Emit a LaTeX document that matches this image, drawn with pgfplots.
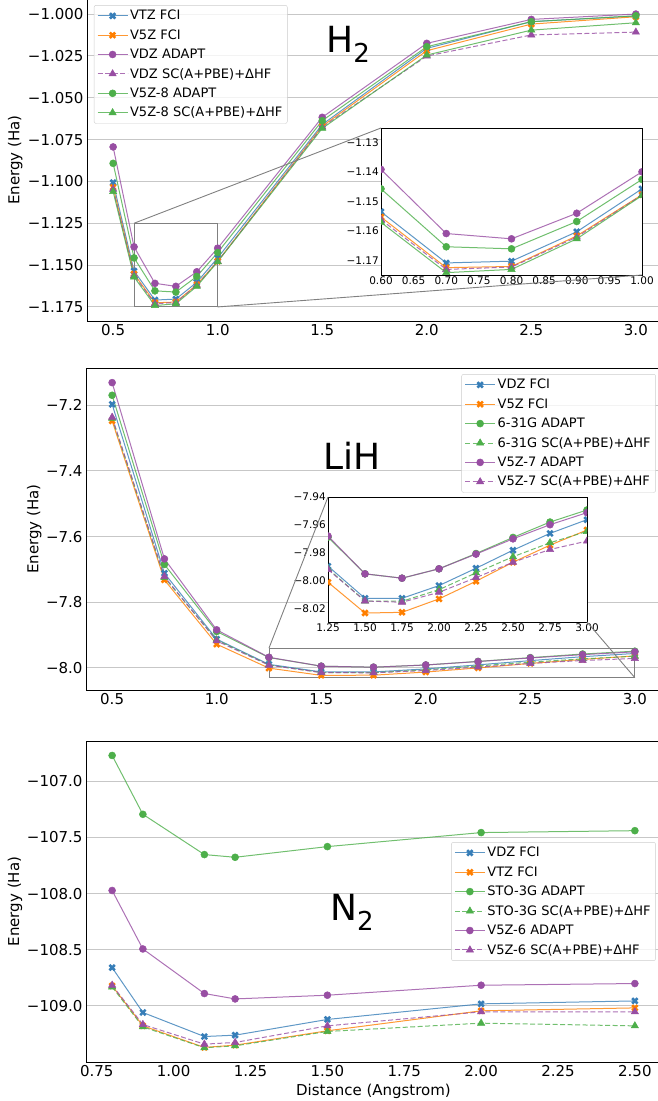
\documentclass[border=0pt]{standalone}
\usepackage{fontspec}
\setmainfont{DejaVu Sans}
\usepackage{pgfplots}
\pgfplotsset{compat=1.18}

\definecolor{cB}{HTML}{377EB8}
\definecolor{cO}{HTML}{FF7F00}
\definecolor{cG}{HTML}{4DAF4A}
\definecolor{cP}{HTML}{984EA3}

\pgfplotsset{
  mX/.style={mark=x, mark size=3.8pt, mark options={solid, line width=2.6pt, draw opacity=1}},
  mO/.style={mark=*, mark size=3.5pt, mark options={solid, line width=0.5pt, draw opacity=1, fill opacity=1}},
  mT/.style={mark=triangle*, mark size=4.2pt, mark options={solid, line width=0.5pt, draw opacity=1, fill opacity=1}},
  ln/.style={line width=1pt, draw opacity=0.8},
  dsh/.style={dash pattern=on 5pt off 2.5pt},
  legend image code/.code={\draw[mark repeat=2,mark phase=2,#1] plot coordinates {(0pt,0pt) (15pt,0pt) (30pt,0pt)};},
  mainax/.style={
    scale only axis, width=575pt,
    axis line style={line width=0.9pt},
    ymajorgrids, major grid style={color=black!22, line width=0.9pt},
    major tick length=0pt,
    tick label style={font=\fontsize{15}{18}\selectfont},
    label style={font=\fontsize{15}{18}\selectfont},
    ylabel={Energy (Ha)},
    legend cell align=left,
    legend style={font=\fontsize{13}{15}\selectfont, draw=black!20, fill=white,
      fill opacity=0.8, text opacity=1, draw opacity=1, rounded corners=2pt,
      row sep=4.2pt, inner ysep=3pt},
  },
  insax/.style={
    scale only axis, axis background/.style={fill=white},
    axis line style={line width=0.9pt},
    major tick length=0pt,
    tick label style={font=\fontsize{10.5}{12}\selectfont, inner sep=2pt},
    clip marker paths=true,
  },
}

\begin{document}
\begin{tikzpicture}[x=1pt,y=1pt]
\useasboundingbox (0,0) rectangle (658,1101);

% ---------------- H2 ----------------
\begin{axis}[mainax, at={(87pt,780pt)}, anchor=south west, height=322pt,
  xmin=0.375, xmax=3.125, ymin=-1.1834, ymax=-0.991,
  xtick={0.5,1,1.5,2,2.5,3}, xticklabels={0.5,1.0,1.5,2.0,2.5,3.0},
  ytick={-1.175,-1.15,-1.125,-1.1,-1.075,-1.05,-1.025,-1.0},
  yticklabels={−1.175,−1.150,−1.125,−1.100,−1.075,−1.050,−1.025,−1.000},
  y label style={at={(axis description cs:-0.125,0.5)}, anchor=center},
  legend style={at={(0.012,0.981)}, anchor=north west}]
\addplot[cB, ln, mX] coordinates {(0.5,-1.1007) (0.6,-1.1535) (0.7,-1.1709) (0.8,-1.1703) (0.9,-1.1603) (1.0,-1.1457) (1.5,-1.0660) (2.0,-1.0205) (2.5,-1.0045) (3.0,-1.0012)};
\addlegendentry{VTZ FCI}
\addplot[cO, ln, mX] coordinates {(0.5,-1.1035) (0.6,-1.1553) (0.7,-1.1725) (0.8,-1.1721) (0.9,-1.1617) (1.0,-1.1477) (1.5,-1.0670) (2.0,-1.0219) (2.5,-1.0060) (3.0,-1.0016)};
\addlegendentry{V5Z FCI}
\addplot[cP, ln, mO] coordinates {(0.5,-1.0794) (0.6,-1.1391) (0.7,-1.1609) (0.8,-1.1627) (0.9,-1.1540) (1.0,-1.1399) (1.5,-1.0617) (2.0,-1.0175) (2.5,-1.0032) (3.0,-1.0000)};
\addlegendentry{VDZ ADAPT}
\addplot[cP, ln, dsh, mT] coordinates {(0.5,-1.1047) (0.6,-1.1562) (0.7,-1.1731) (0.8,-1.1723) (0.9,-1.1621) (1.0,-1.1478) (1.5,-1.0675) (2.0,-1.0251) (2.5,-1.0125) (3.0,-1.0108)};
\addlegendentry{VDZ SC(A+PBE)+ΔHF}
\addplot[cG, ln, mO] coordinates {(0.5,-1.0892) (0.6,-1.1457) (0.7,-1.1654) (0.8,-1.1661) (0.9,-1.1568) (1.0,-1.1425) (1.5,-1.0637) (2.0,-1.0195) (2.5,-1.0046) (3.0,-1.0010)};
\addlegendentry{V5Z-8 ADAPT}
\addplot[cG, ln, mT] coordinates {(0.5,-1.1061) (0.6,-1.1571) (0.7,-1.1742) (0.8,-1.1731) (0.9,-1.1627) (1.0,-1.1480) (1.5,-1.0683) (2.0,-1.0245) (2.5,-1.0096) (3.0,-1.0052)};
\addlegendentry{V5Z-8 SC(A+PBE)+ΔHF}
\draw[black!50, line width=0.9pt] (axis cs:0.6,-1.175) rectangle (axis cs:1.0,-1.125);
\coordinate (r1tl) at (axis cs:0.6,-1.125);
\coordinate (r1br) at (axis cs:1.0,-1.175);
\end{axis}

\begin{axis}[insax, at={(381pt,826pt)}, anchor=south west, width=261pt, height=147pt,
  xmin=0.6, xmax=1.0, ymin=-1.175, ymax=-1.125,
  xtick={0.6,0.65,0.7,0.75,0.8,0.85,0.9,0.95,1.0},
  xticklabels={0.60,0.65,0.70,0.75,0.80,0.85,0.90,0.95,1.00},
  ytick={-1.17,-1.16,-1.15,-1.14,-1.13},
  yticklabels={−1.17,−1.16,−1.15,−1.14,−1.13}]
\addplot[cB, ln, mX] coordinates {(0.6,-1.1535) (0.7,-1.1709) (0.8,-1.1703) (0.9,-1.1603) (1.0,-1.1457)};
\addplot[cO, ln, mX] coordinates {(0.6,-1.1553) (0.7,-1.1725) (0.8,-1.1721) (0.9,-1.1617) (1.0,-1.1477)};
\addplot[cP, ln, mO] coordinates {(0.6,-1.1391) (0.7,-1.1609) (0.8,-1.1627) (0.9,-1.1540) (1.0,-1.1399)};
\addplot[cP, ln, dsh, mT] coordinates {(0.6,-1.1562) (0.7,-1.1731) (0.8,-1.1723) (0.9,-1.1621) (1.0,-1.1478)};
\addplot[cG, ln, mO] coordinates {(0.6,-1.1457) (0.7,-1.1654) (0.8,-1.1661) (0.9,-1.1568) (1.0,-1.1425)};
\addplot[cG, ln, mT] coordinates {(0.6,-1.1571) (0.7,-1.1742) (0.8,-1.1731) (0.9,-1.1627) (1.0,-1.1480)};
\coordinate (i1tl) at (rel axis cs:0,1);
\coordinate (i1br) at (rel axis cs:1,0);
\end{axis}
\draw[black!50, line width=0.9pt] (r1tl) -- (i1tl) (r1br) -- (i1br);
\node[anchor=base west, font=\fontsize{36}{40}\selectfont, inner sep=0pt] at (326,1048) {H\raisebox{-10pt}{\fontsize{26}{28}\selectfont 2}};

% ---------------- LiH ----------------
\begin{axis}[mainax, at={(86pt,411pt)}, anchor=south west, height=322pt,
  xmin=0.375, xmax=3.125, ymin=-8.0675, ymax=-7.0864,
  xtick={0.5,1,1.5,2,2.5,3}, xticklabels={0.5,1.0,1.5,2.0,2.5,3.0},
  ytick={-8.0,-7.8,-7.6,-7.4,-7.2},
  yticklabels={−8.0,−7.8,−7.6,−7.4,−7.2},
  y label style={at={(axis description cs:-0.09,0.5)}, anchor=center},
  legend style={at={(0.991,0.981)}, anchor=north east}]
\addplot[cB, ln, mX] coordinates {(0.5,-7.197) (0.75,-7.7117) (1.0,-7.9127) (1.25,-7.9894) (1.5,-8.0124) (1.75,-8.0124) (2.0,-8.0033) (2.25,-7.9909) (2.5,-7.9780) (2.75,-7.9660) (3.0,-7.9562)};
\addlegendentry{VDZ FCI}
\addplot[cO, ln, mX] coordinates {(0.5,-7.2477) (0.75,-7.732) (1.0,-7.928) (1.25,-8.0009) (1.5,-8.0229) (1.75,-8.0224) (2.0,-8.0128) (2.25,-8.0002) (2.5,-7.9866) (2.75,-7.9744) (3.0,-7.9636)};
\addlegendentry{V5Z FCI}
\addplot[cG, ln, mO] coordinates {(0.5,-7.1695) (0.75,-7.685) (1.0,-7.8893) (1.25,-7.9687) (1.5,-7.9949) (1.75,-7.9980) (2.0,-7.9913) (2.25,-7.9804) (2.5,-7.9689) (2.75,-7.9579) (3.0,-7.9493)};
\addlegendentry{6-31G ADAPT}
\addplot[cG, ln, dsh, mT] coordinates {(0.5,-7.2396) (0.75,-7.725) (1.0,-7.9150) (1.25,-7.9913) (1.5,-8.0143) (1.75,-8.0145) (2.0,-8.0062) (2.25,-7.9942) (2.5,-7.9827) (2.75,-7.9727) (3.0,-7.9646)};
\addlegendentry{6-31G SC(A+PBE)+ΔHF}
\addplot[cP, ln, mO] coordinates {(0.5,-7.131) (0.75,-7.668) (1.0,-7.8843) (1.25,-7.9679) (1.5,-7.9949) (1.75,-7.9980) (2.0,-7.9913) (2.25,-7.9808) (2.5,-7.9699) (2.75,-7.9598) (3.0,-7.9512)};
\addlegendentry{V5Z-7 ADAPT}
\addplot[cP, ln, dsh, mT] coordinates {(0.5,-7.2365) (0.75,-7.7218) (1.0,-7.9178) (1.25,-7.9918) (1.5,-8.0143) (1.75,-8.0152) (2.0,-8.0081) (2.25,-7.9976) (2.5,-7.9866) (2.75,-7.9775) (3.0,-7.9715)};
\addlegendentry{V5Z-7 SC(A+PBE)+ΔHF}
\draw[black!50, line width=0.9pt] (axis cs:1.25,-8.03) rectangle (axis cs:3.0,-7.94);
\coordinate (r2tl) at (axis cs:1.25,-7.94);
\coordinate (r2br) at (axis cs:3.0,-8.03);
\end{axis}

\begin{axis}[insax, at={(328pt,479pt)}, anchor=south west, width=259pt, height=125pt,
  xmin=1.25, xmax=3.0, ymin=-8.0293, ymax=-7.94,
  xtick={1.25,1.5,1.75,2,2.25,2.5,2.75,3},
  xticklabels={1.25,1.50,1.75,2.00,2.25,2.50,2.75,3.00},
  ytick={-8.02,-8.0,-7.98,-7.96,-7.94},
  yticklabels={−8.02,−8.00,−7.98,−7.96,−7.94}]
\addplot[cB, ln, mX] coordinates {(1.25,-7.9894) (1.5,-8.0124) (1.75,-8.0124) (2.0,-8.0033) (2.25,-7.9909) (2.5,-7.9780) (2.75,-7.9660) (3.0,-7.9562)};
\addplot[cO, ln, mX] coordinates {(1.25,-8.0009) (1.5,-8.0229) (1.75,-8.0224) (2.0,-8.0128) (2.25,-8.0002) (2.5,-7.9866) (2.75,-7.9744) (3.0,-7.9636)};
\addplot[cG, ln, mO] coordinates {(1.25,-7.9687) (1.5,-7.9949) (1.75,-7.9980) (2.0,-7.9913) (2.25,-7.9804) (2.5,-7.9689) (2.75,-7.9579) (3.0,-7.9493)};
\addplot[cG, ln, dsh, mT] coordinates {(1.25,-7.9913) (1.5,-8.0143) (1.75,-8.0145) (2.0,-8.0062) (2.25,-7.9942) (2.5,-7.9827) (2.75,-7.9727) (3.0,-7.9646)};
\addplot[cP, ln, mO] coordinates {(1.25,-7.9679) (1.5,-7.9949) (1.75,-7.9980) (2.0,-7.9913) (2.25,-7.9808) (2.5,-7.9699) (2.75,-7.9598) (3.0,-7.9512)};
\addplot[cP, ln, dsh, mT] coordinates {(1.25,-7.9918) (1.5,-8.0143) (1.75,-8.0152) (2.0,-8.0081) (2.25,-7.9976) (2.5,-7.9866) (2.75,-7.9775) (3.0,-7.9715)};
\coordinate (i2tl) at (rel axis cs:0,1);
\coordinate (i2br) at (rel axis cs:1,0);
\end{axis}
\draw[black!50, line width=0.9pt] (r2tl) -- (i2tl) (r2br) -- (i2br);
\node[anchor=base west, font=\fontsize{36}{40}\selectfont, inner sep=0pt] at (323,631) {LiH};

% ---------------- N2 ----------------
\begin{axis}[mainax, at={(86pt,39pt)}, anchor=south west, height=321pt,
  xmin=0.715, xmax=2.585, ymin=-109.50, ymax=-106.64,
  xtick={0.75,1,1.25,1.5,1.75,2,2.25,2.5},
  xticklabels={0.75,1.00,1.25,1.50,1.75,2.00,2.25,2.50},
  ytick={-109,-108.5,-108,-107.5,-107},
  yticklabels={−109.0,−108.5,−108.0,−107.5,−107.0},
  xlabel={Distance (Angstrom)},
  x label style={at={(axis description cs:0.5,-0.09)}, anchor=center},
  y label style={at={(axis description cs:-0.1235,0.5)}, anchor=center},
  legend style={at={(0.991,0.5)}, anchor=east}]
\addplot[cB, ln, mX] coordinates {(0.8,-108.659) (0.9,-109.059) (1.1,-109.273) (1.2,-109.261) (1.5,-109.121) (2.0,-108.982) (2.5,-108.956)};
\addlegendentry{VDZ FCI}
\addplot[cO, ln, mX] coordinates {(0.8,-108.822) (0.9,-109.178) (1.1,-109.370) (1.2,-109.350) (1.5,-109.222) (2.0,-109.044) (2.5,-109.018)};
\addlegendentry{VTZ FCI}
\addplot[cG, ln, mO] coordinates {(0.8,-106.769) (0.9,-107.293) (1.1,-107.652) (1.2,-107.676) (1.5,-107.581) (2.0,-107.456) (2.5,-107.439)};
\addlegendentry{STO-3G ADAPT}
\addplot[cG, ln, dsh, mT] coordinates {(0.8,-108.831) (0.9,-109.187) (1.1,-109.373) (1.2,-109.356) (1.5,-109.228) (2.0,-109.154) (2.5,-109.178)};
\addlegendentry{STO-3G SC(A+PBE)+ΔHF}
\addplot[cP, ln, mO] coordinates {(0.8,-107.972) (0.9,-108.493) (1.1,-108.890) (1.2,-108.938) (1.5,-108.905) (2.0,-108.816) (2.5,-108.801)};
\addlegendentry{V5Z-6 ADAPT}
\addplot[cP, ln, dsh, mT] coordinates {(0.8,-108.816) (0.9,-109.166) (1.1,-109.341) (1.2,-109.326) (1.5,-109.178) (2.0,-109.053) (2.5,-109.053)};
\addlegendentry{V5Z-6 SC(A+PBE)+ΔHF}
\end{axis}
\node[anchor=base west, font=\fontsize{36}{40}\selectfont, inner sep=0pt] at (330,180) {N\raisebox{-10pt}{\fontsize{26}{28}\selectfont 2}};
\end{tikzpicture}
\end{document}
